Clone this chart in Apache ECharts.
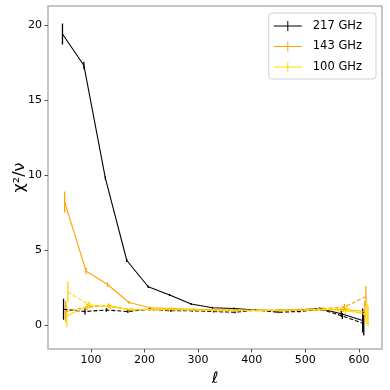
<!DOCTYPE html>
<html>
<head>
<meta charset="utf-8">
<script src="https://cdn.jsdelivr.net/npm/echarts@6/dist/echarts.min.js"></script>
<style>
  html, body { margin: 0; padding: 0; background: #fff; }
  #main { width: 390px; height: 390px; }
</style>
</head>
<body>
<div id="main"></div>
<script>
// multipole bin centres
var ell = [47, 87, 127, 167, 207, 247, 287, 327, 367, 407, 447, 487, 527, 567, 607];
var xTicks = [100, 200, 300, 400, 500, 600];
var yTicks = [0, 5, 10, 15, 20];

// solid = full data, dashed = second set (no legend)
var chi217  = [19.4, 17.3, 9.8, 4.3, 2.55, 2.0, 1.4, 1.15, 1.1, 1.0, 0.95, 1.0, 1.1, 0.75, 0.3];
var err217  = [0.7, 0.25, 0.12, 0.1, 0.08, 0.07, 0.06, 0.06, 0.06, 0.06, 0.06, 0.06, 0.08, 0.2, 0.8];
var chi217d = [1.05, 0.9, 1.0, 0.9, 1.05, 0.95, 0.95, 0.9, 0.85, 1.0, 0.85, 0.9, 1.05, 0.6, 0.1];
var err217d = [0.7, 0.2, 0.12, 0.1, 0.08, 0.07, 0.06, 0.06, 0.06, 0.06, 0.06, 0.06, 0.08, 0.2, 0.8];

var chi143  = [8.2, 3.6, 2.7, 1.5, 1.15, 1.1, 1.05, 1.0, 1.0, 0.95, 1.0, 1.0, 1.0, 1.05, 0.9];
var err143  = [0.7, 0.2, 0.15, 0.1, 0.08, 0.07, 0.06, 0.06, 0.06, 0.06, 0.06, 0.06, 0.08, 0.2, 0.7];
var chi143d = [0.9, 1.2, 1.3, 1.0, 1.05, 1.05, 1.0, 1.0, 1.0, 1.0, 1.0, 1.05, 1.1, 1.2, 1.9];
var err143d = [0.7, 0.2, 0.15, 0.1, 0.08, 0.07, 0.06, 0.06, 0.06, 0.06, 0.06, 0.06, 0.08, 0.2, 0.7];

var chi100  = [0.6, 1.3, 1.25, 1.0, 1.05, 1.05, 1.0, 0.95, 0.95, 1.0, 0.95, 1.0, 1.05, 0.95, 0.75];
var err100  = [0.75, 0.2, 0.15, 0.1, 0.08, 0.07, 0.06, 0.06, 0.06, 0.06, 0.06, 0.06, 0.08, 0.2, 0.7];
var chi100d = [2.2, 1.35, 1.2, 1.05, 1.0, 1.0, 1.0, 0.95, 0.95, 1.0, 0.95, 1.0, 1.05, 1.1, 0.6];
var err100d = [0.7, 0.2, 0.15, 0.1, 0.08, 0.07, 0.06, 0.06, 0.06, 0.06, 0.06, 0.06, 0.08, 0.2, 0.7];

var black = '#000000', orange = '#FFA500', gold = '#FFD700';
var font = 'DejaVu Sans';
var legendIcon = 'path://M0,4.5h28v1h-28z M13.5,0h1v10h-1z';

function pts(vals, shift) {
    return vals.map(function (v, i) { return [ell[i] + shift, v]; });
}
function bars(vals, errs, shift) {
    return vals.map(function (v, i) { return [ell[i] + shift, v - errs[i], v + errs[i]]; });
}
function lineSeries(name, vals, shift, color, dashed) {
    return {
        name: name,
        type: 'line',
        data: pts(vals, shift),
        symbol: 'none',
        lineStyle: { color: color, width: 1.1, type: dashed ? [4, 2] : 'solid' },
        itemStyle: { color: color },
        animation: false
    };
}
function errSeries(name, vals, errs, shift, color) {
    return {
        name: name,
        type: 'custom',
        data: bars(vals, errs, shift),
        renderItem: function (params, api) {
            var a = api.coord([api.value(0), api.value(1)]);
            var b = api.coord([api.value(0), api.value(2)]);
            return {
                type: 'line',
                shape: { x1: a[0], y1: a[1], x2: b[0], y2: b[1] },
                style: { stroke: color, lineWidth: 1.3 }
            };
        },
        itemStyle: { color: color },
        animation: false
    };
}

var myChart = echarts.init(document.getElementById('main'));
var option = {
    backgroundColor: '#fff',
    grid: {
        left: 48, right: 8, top: 6, bottom: 41,
        outerBoundsMode: 'none',
        show: true, borderColor: '#b3b3b3', borderWidth: 1.5
    },
    legend: {
        orient: 'vertical',
        right: 14,
        top: 13,
        data: [
            { name: '217 GHz', icon: legendIcon, itemStyle: { color: black } },
            { name: '143 GHz', icon: legendIcon, itemStyle: { color: orange } },
            { name: '100 GHz', icon: legendIcon, itemStyle: { color: gold } }
        ],
        itemWidth: 28,
        itemHeight: 10,
        itemGap: 8.5,
        padding: [7, 14, 6, 5],
        borderColor: '#d0d0d0',
        borderWidth: 1,
        borderRadius: 3,
        backgroundColor: 'rgba(255,255,255,0.8)',
        textStyle: { fontFamily: font, fontSize: 11.5, color: '#000', padding: [0, 0, 0, 6] }
    },
    xAxis: {
        type: 'value',
        min: 20,
        max: 643,
        name: 'ℓ',
        nameLocation: 'middle',
        nameGap: 22,
        nameMoveOverlap: false,
        nameTextStyle: { fontFamily: font, fontSize: 16, fontStyle: 'italic', color: '#000' },
        axisLine: { show: false, onZero: false },
        axisTick: { show: true, customValues: xTicks, length: 3.5, lineStyle: { color: '#555' } },
        axisLabel: { customValues: xTicks, fontFamily: font, fontSize: 11, color: '#000', margin: 6 },
        splitLine: { show: false }
    },
    yAxis: {
        type: 'value',
        min: -1.6,
        max: 21.27,
        name: 'χ²/ν',
        nameLocation: 'middle',
        nameRotate: 90,
        nameGap: 28,
        nameMoveOverlap: false,
        nameTextStyle: { fontFamily: font, fontSize: 16, color: '#000', verticalAlign: 'middle' },
        axisLine: { show: false, onZero: false },
        axisTick: { show: true, customValues: yTicks, length: 3.5, lineStyle: { color: '#555' } },
        axisLabel: { customValues: yTicks, fontFamily: font, fontSize: 11, color: '#000', margin: 6 },
        splitLine: { show: false }
    },
    series: [
        lineSeries('217 GHz', chi217, 0, black, false),
        errSeries('217 GHz', chi217, err217, 0, black),
        lineSeries('217 dashed', chi217d, 2, black, true),
        errSeries('217 dashed', chi217d, err217d, 2, black),
        lineSeries('143 GHz', chi143, 4, orange, false),
        errSeries('143 GHz', chi143, err143, 4, orange),
        lineSeries('143 dashed', chi143d, 6, orange, true),
        errSeries('143 dashed', chi143d, err143d, 6, orange),
        lineSeries('100 GHz', chi100, 8, gold, false),
        errSeries('100 GHz', chi100, err100, 8, gold),
        lineSeries('100 dashed', chi100d, 10, gold, true),
        errSeries('100 dashed', chi100d, err100d, 10, gold)
    ]
};
myChart.setOption(option);
window.onresize = myChart.resize;
</script>
</body>
</html>
